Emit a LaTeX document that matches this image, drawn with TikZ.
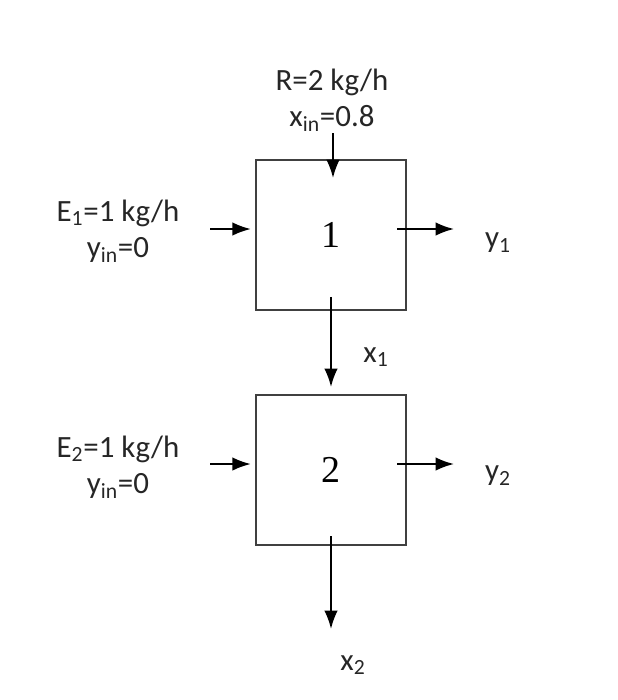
\documentclass[tikz,border=0pt]{standalone}
\usepackage{fontspec}
\setmainfont{Carlito}
\newfontfamily\numfont{Liberation Serif}
\usetikzlibrary{arrows.meta}
\begin{document}
\begin{tikzpicture}[
  x=0.025cm,y=-0.025cm,
  unit/.style={draw=black!75,line width=1.4pt,minimum size=3.75cm,inner sep=0pt,
    font=\numfont\fontsize{27}{30}\selectfont},
  flow/.style={draw=black,line width=1.3pt,-{Latex[length=13pt,width=9.5pt]}},
  label/.style={font=\fontsize{22}{25.5}\selectfont,text=black!85,align=center},
]
\useasboundingbox (0,0) rectangle (618,700);
% units
\node[unit] (u1) at (331,235) {1};
\node[unit] (u2) at (331,470) {2};
% feed labels
\node[label] (rlab) at (332,100) {R=2 kg/h\\x\textsubscript{in}=0.8};
\node[label] (e1lab) at (118,231) {E\textsubscript{1}=1 kg/h\\y\textsubscript{in}=0};
\node[label] (e2lab) at (118,467) {E\textsubscript{2}=1 kg/h\\y\textsubscript{in}=0};
\node[label] (y1lab) at (498,243) {y\textsubscript{1}};
\node[label] (y2lab) at (498,476) {y\textsubscript{2}};
\node[label] (x1lab) at (376,357) {x\textsubscript{1}};
\node[label] (x2lab) at (353,665) {x\textsubscript{2}};
% stream ends
\coordinate (rtop) at (333,133);
\coordinate (rend) at (333,178);
\coordinate (e1a) at (210,229);
\coordinate (e2a) at (210,464);
\coordinate (y1b) at (454,229);
\coordinate (y2b) at (454,464);
\coordinate (x2b) at (331,629);
% streams
\draw[flow] (rtop) -- (rend);
\draw[flow] (e1a) -- ([xshift=-3pt]e1a -| u1.west);
\draw[flow] (e2a) -- ([xshift=-3pt]e2a -| u2.west);
\draw[flow] ([xshift=-7pt]y1b -| u1.east) -- (y1b);
\draw[flow] ([xshift=-7pt]y2b -| u2.east) -- (y2b);
\draw[flow] ([yshift=10pt]u1.south) -- ([yshift=5pt]u2.north);
\draw[flow] ([yshift=7pt]u2.south) -- (x2b);
\end{tikzpicture}
\end{document}
